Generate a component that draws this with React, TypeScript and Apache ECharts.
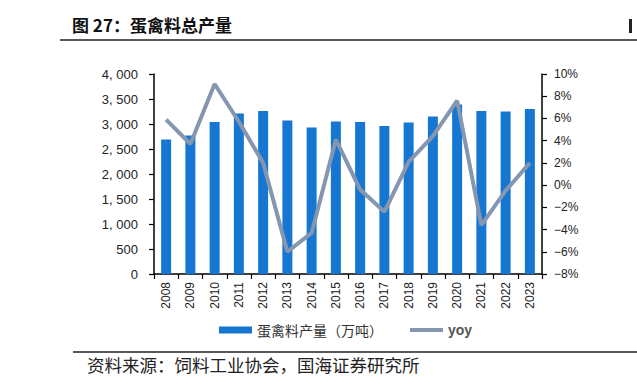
import React, { useEffect, useRef } from "react";
import * as echarts from "echarts";

const years = ["2008","2009","2010","2011","2012","2013","2014","2015","2016","2017","2018","2019","2020","2021","2022","2023"];
const production = [2690, 2770, 3040, 3210, 3260, 3070, 2930, 3050, 3040, 2960, 3030, 3150, 3390, 3260, 3250, 3300];
const yoy = [5.9, 3.7, 9.1, 5.7, 2.0, -6.0, -4.3, 4.1, -0.4, -2.4, 2.1, 4.4, 7.6, -3.6, -0.5, 2.0];
const leftTicks = { min: 0, max: 4000, interval: 500 };
const rightTicks = { min: -8, max: 10, interval: 2 };

const titleText = "图 27：蛋禽料总产量";
const sourceText = "资料来源：饲料工业协会，国海证券研究所";
const barName = "蛋禽料产量（万吨）";
const lineName = "yoy";

const fmtThousands = (v: number) => {
  if (v < 1000) return String(v);
  const s = String(v);
  return s.slice(0, s.length - 3) + ", " + s.slice(s.length - 3);
};

export default function App() {
  const ref = useRef<HTMLDivElement>(null);
  useEffect(() => {
    if (!ref.current) return;
    const chart = echarts.init(ref.current, undefined, { renderer: "svg" });
    const axisFont = "Liberation Sans, Arial, sans-serif";
    chart.setOption({
      animation: false,
      backgroundColor: "#ffffff",
      grid: { left: 154, right: 95, top: 74, height: 200, containLabel: false },
      legend: {
        left: 214,
        top: 318,
        itemWidth: 33,
        itemHeight: 7,
        itemGap: 25,
        data: [
          { name: barName, icon: "rect", textStyle: { fontFamily: "Noto Sans CJK SC", fontSize: 14, color: "#333" } },
          {
            name: lineName,
            itemStyle: { opacity: 0 },
            lineStyle: { width: 4, color: "#8496B0" },
            textStyle: { fontFamily: axisFont, fontSize: 14, fontWeight: "bold", color: "#555" },
          },
        ],
      },
      xAxis: {
        type: "category",
        data: years,
        boundaryGap: true,
        axisLine: { lineStyle: { color: "#000", width: 1.5 } },
        axisTick: { show: true, length: 5, alignWithLabel: false, lineStyle: { color: "#000", width: 1.2 } },
        axisLabel: { rotate: 90, margin: 8, fontSize: 12, color: "#222", fontFamily: axisFont },
      },
      yAxis: [
        {
          type: "value",
          min: leftTicks.min,
          max: leftTicks.max,
          interval: leftTicks.interval,
          axisLine: { show: true, lineStyle: { color: "#000", width: 1.5 } },
          axisTick: { show: true, length: 5, lineStyle: { color: "#000", width: 1.2 } },
          splitLine: { show: false },
          axisLabel: { fontSize: 13, color: "#222", margin: 16, fontFamily: axisFont, formatter: (v: number) => fmtThousands(v) },
        },
        {
          type: "value",
          min: rightTicks.min,
          max: rightTicks.max,
          interval: rightTicks.interval,
          position: "right",
          axisLine: { show: true, lineStyle: { color: "#000", width: 1.5 } },
          axisTick: { show: true, length: 5, lineStyle: { color: "#000", width: 1.2 } },
          splitLine: { show: false },
          axisLabel: { fontSize: 12, color: "#222", margin: 12, fontFamily: axisFont, formatter: (v: number) => (v < 0 ? "−" + Math.abs(v) : v) + "%" },
        },
      ],
      series: [
        {
          name: barName,
          type: "bar",
          data: production,
          yAxisIndex: 0,
          barWidth: 10,
          itemStyle: { color: "#1677D2" },
        },
        {
          name: lineName,
          type: "line",
          data: yoy,
          yAxisIndex: 1,
          symbol: "none",
          lineStyle: { color: "#8496B0", width: 4 },
          itemStyle: { color: "#8496B0" },
        },
      ],
      graphic: [
        {
          type: "text",
          left: 72,
          top: 16,
          style: { text: titleText, fontSize: 17, fontWeight: "bold", fontFamily: "Noto Sans CJK SC", fill: "#111" },
        },
        { type: "line", shape: { x1: 60, y1: 40, x2: 637, y2: 40 }, style: { stroke: "#222", lineWidth: 1.5 } },
        { type: "rect", shape: { x: 629, y: 19, width: 3, height: 14 }, style: { fill: "#222" } },
        { type: "line", shape: { x1: 73, y1: 352, x2: 637, y2: 352 }, style: { stroke: "#222", lineWidth: 1.5 } },
        {
          type: "text",
          left: 87,
          top: 356,
          style: { text: sourceText, fontSize: 17.5, fontFamily: "Noto Sans CJK SC", fill: "#222" },
        },
      ],
    });
    return () => chart.dispose();
  }, []);
  return <div ref={ref} style={{ position: "absolute", left: 0, top: 0, width: 637, height: 386 }} />;
}
